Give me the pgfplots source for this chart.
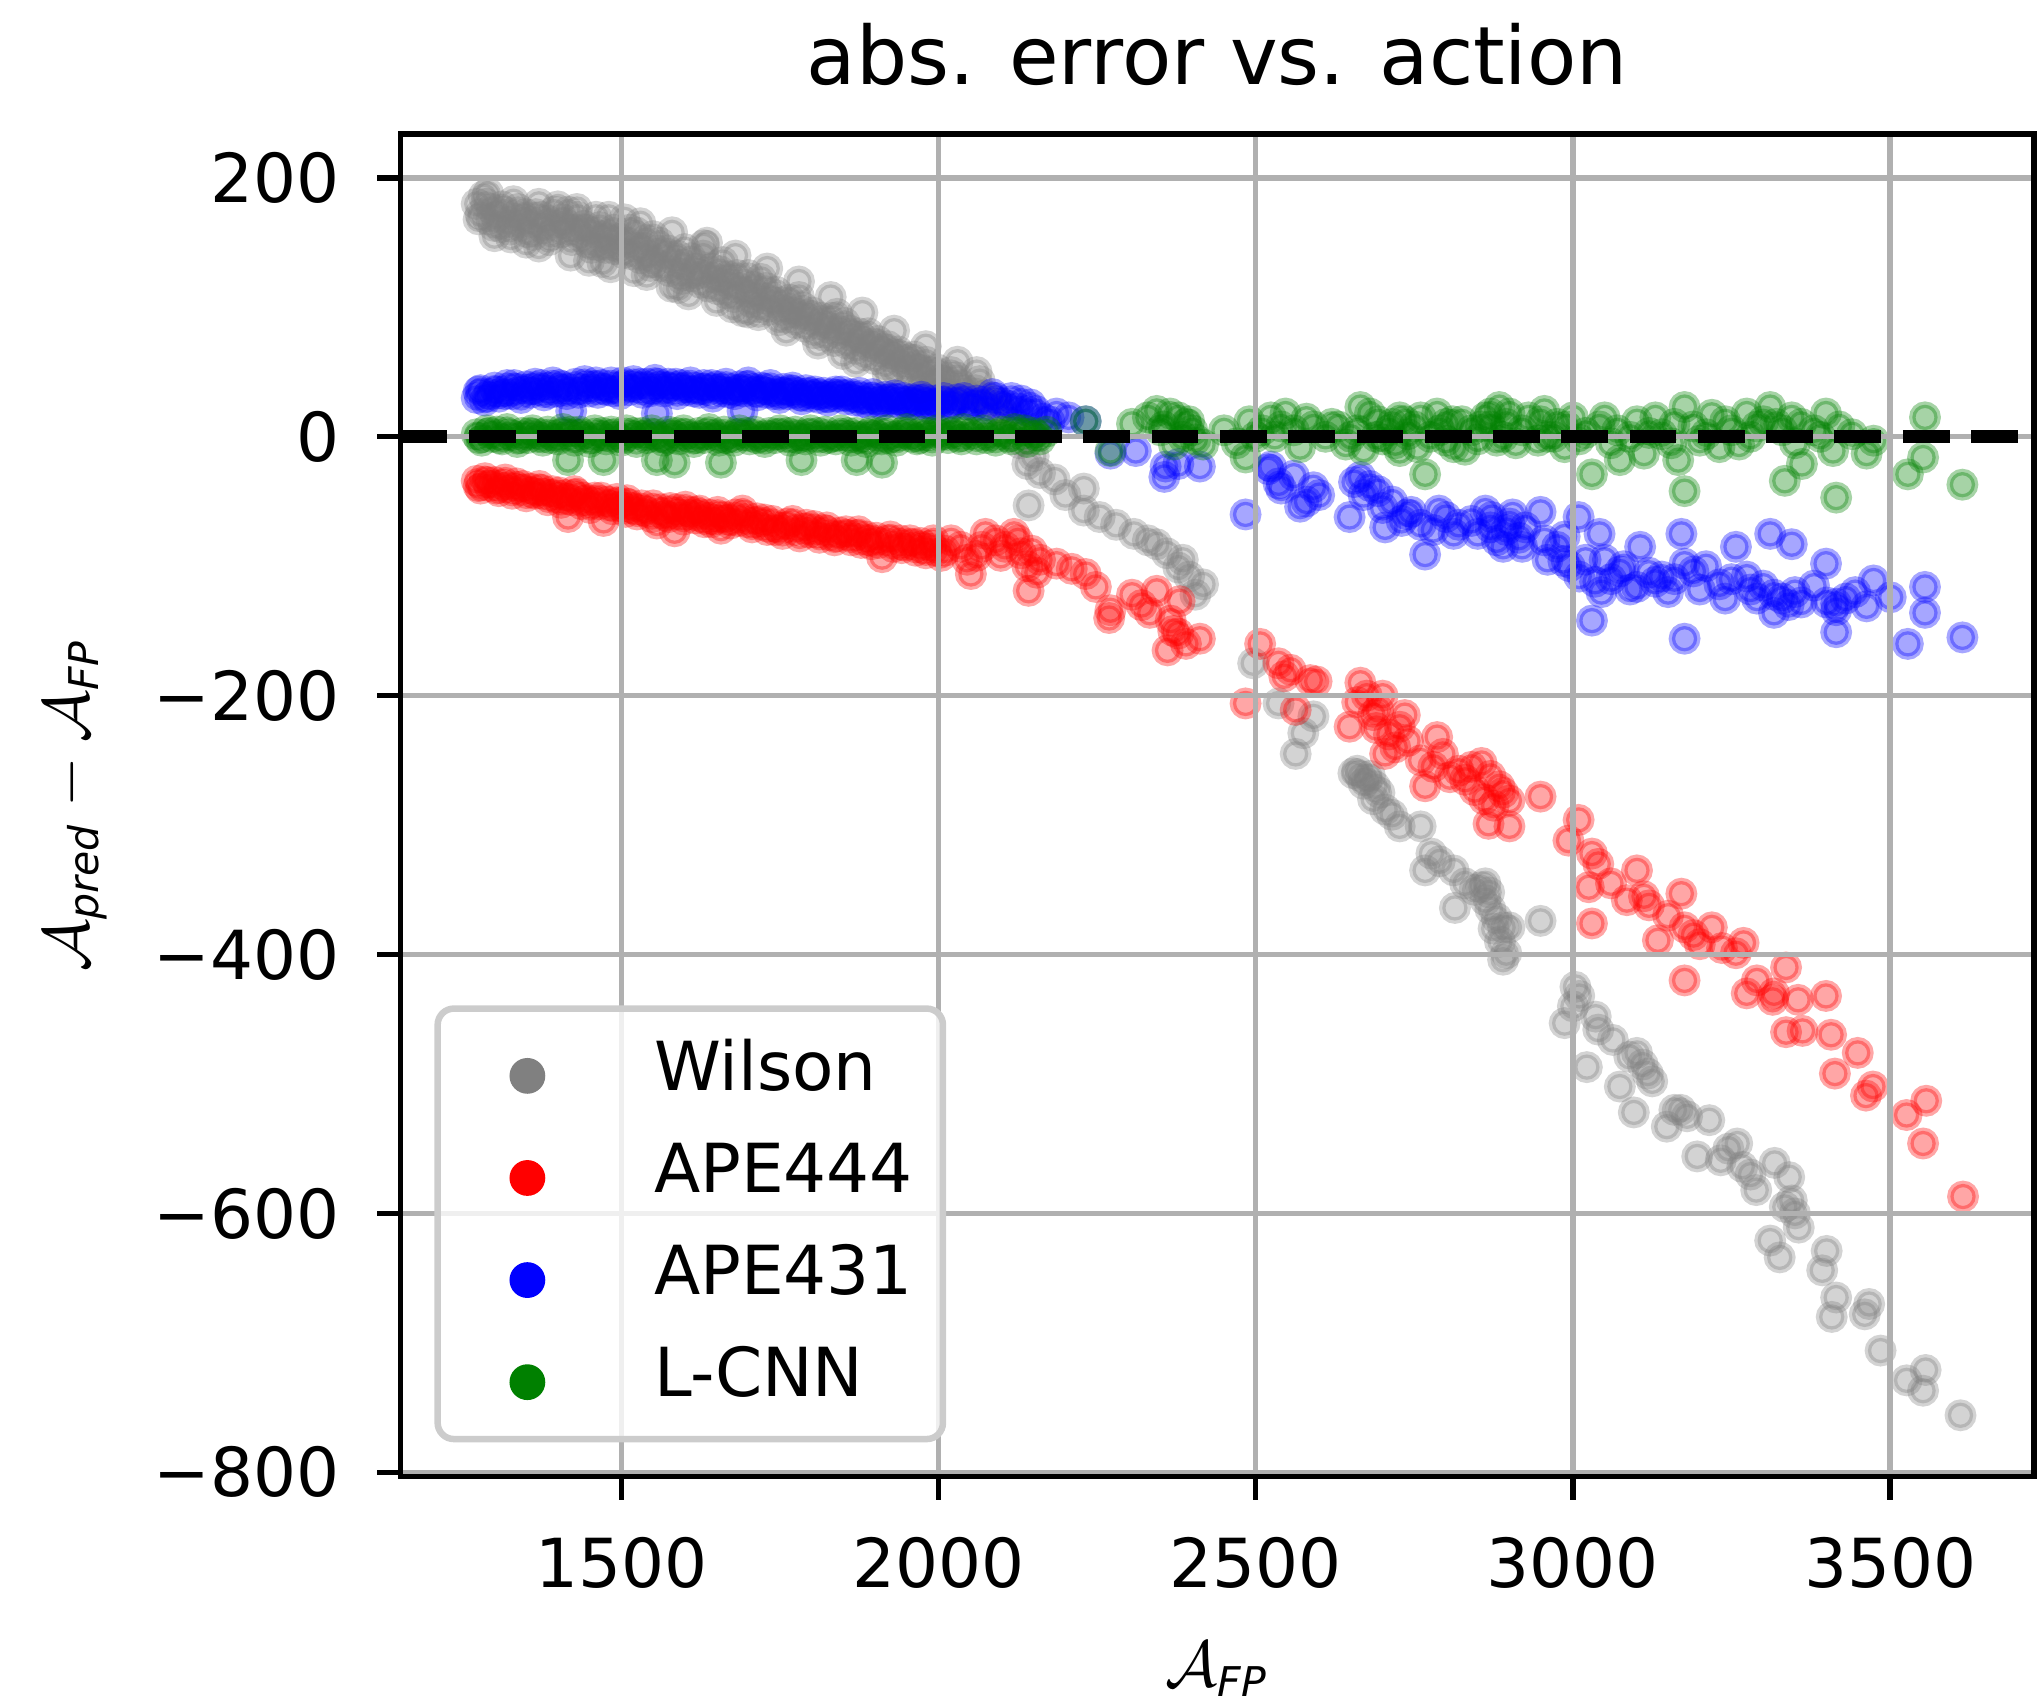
\documentclass[border=0pt]{standalone}
\usepackage{amsmath}
\usepackage{fontspec}
\setmainfont{DejaVu Sans}
\usepackage{pgfplots}
\usepackage{pgfplotstable}
\pgfplotsset{compat=1.18}
\definecolor{mgray}{RGB}{128,128,128}
\definecolor{mred}{RGB}{255,0,0}
\definecolor{mblue}{RGB}{0,0,255}
\definecolor{mgreen}{RGB}{0,128,0}
\definecolor{gridc}{RGB}{176,176,176}
\definecolor{legc}{RGB}{204,204,204}

\pgfplotstableread{
x y
1272 180
1278 172
1283 186
1290 168
1296 176
1303 170
1310 162
1316 174
1322 166
1326 154
1333 171
1340 163
1346 168
1352 158
1358 166
1365 172
1370 147
1377 161
1384 167
1390 156
1397 163
1400 178
1404 158
1410 165
1416 174
1422 152
1428 160
1435 155
1441 163
1447 150
1449 136
1455 158
1460 170
1462 148
1468 155
1475 146
1481 152
1483 131
1490 145
1497 153
1503 142
1505 168
1510 150
1516 141
1520 128
1523 158
1530 138
1536 146
1543 140
1550 155
1550 135
1557 144
1563 132
1570 139
1576 128
1579 116
1585 136
1592 126
1598 133
1600 145
1606 110
1611 124
1618 130
1625 119
1632 127
1635 150
1638 116
1645 123
1652 114
1658 121
1660 135
1665 111
1672 118
1678 108
1685 115
1691 97
1698 112
1700 125
1705 104
1712 110
1718 100
1720 122
1725 107
1732 98
1740 104
1748 90
1754 98
1760 92
1768 99
1775 88
1780 108
1782 95
1790 85
1797 91
1804 80
1812 87
1820 78
1828 84
1836 74
1840 95
1843 80
1849 64
1856 72
1863 78
1870 68
1877 74
1884 63
1892 70
1900 60
1908 66
1916 56
1924 62
1932 52
1940 58
1950 54
1958 48
1966 55
1975 46
1984 50
1993 40
2002 44
2012 36
2020 50
2035 40
2050 30
2065 43
2080 25
1275 168
1287 180
1299 163
1312 178
1324 160
1337 176
1349 172
1361 156
1374 170
1386 152
1394 174
1407 168
1419 160
1431 170
1444 160
1453 146
1466 162
1478 156
1488 160
1500 148
1513 160
1526 146
1539 152
1546 132
1560 150
1573 144
1588 140
1596 122
1609 138
1621 126
1629 140
1642 130
1655 128
1668 124
1675 100
1682 125
1695 120
1708 116
1716 94
1728 115
1736 108
1744 112
1752 104
1765 106
1772 96
1786 100
1794 94
1801 96
1815 92
1824 88
1832 92
1846 84
1852 88
1860 82
1874 80
1881 76
1889 80
1897 72
1904 74
1913 68
1920 70
1928 64
1936 66
1945 62
1954 60
1962 62
1970 52
1980 58
1990 50
1998 52
2008 46
2016 42
2028 46
2042 36
2058 36
2072 32
2090 28
1290 188
1330 182
1370 180
1430 176
1480 170
1530 165
1580 158
1630 148
1680 140
1730 130
1780 120
1830 108
1880 96
1930 82
1980 70
2030 58
2060 50
1300 155
1350 150
1420 140
1470 135
1540 125
1590 115
1650 105
1700 96
1760 82
1810 72
1870 58
1920 48
1970 38
2025 28
2100 20
2115 10
2128 -5
2140 -21
2150 -15
2142 -53
2160 -28
2183 -33
2200 -45
2229 -40
2229 -57
2254 -62
2280 -68
2308 -75
2330 -80
2344 -83
2360 -90
2378 -101
2385 -95
2395 -108
2405 -122
2417 -114
2496 -175
2536 -206
2563 -245
2575 -229
2591 -216
2654 -260
2660 -258
2665 -262
2670 -268
2675 -265
2680 -262
2685 -280
2688 -270
2695 -275
2704 -288
2715 -292
2727 -301
2760 -301
2767 -335
2777 -322
2790 -328
2812 -335
2814 -364
2830 -345
2845 -350
2855 -348
2862 -345
2862 -358
2868 -352
2870 -365
2875 -380
2880 -372
2885 -390
2890 -379
2890 -404
2895 -399
2900 -379
2949 -374
2987 -453
3000 -440
3004 -425
3010 -432
3022 -487
3036 -448
3040 -458
3063 -466
3074 -502
3089 -479
3096 -522
3101 -476
3110 -485
3118 -492
3125 -498
3148 -533
3160 -520
3170 -520
3180 -525
3196 -556
3215 -528
3233 -559
3245 -550
3259 -546
3267 -564
3280 -570
3289 -582
3311 -621
3318 -561
3326 -634
3334 -595
3341 -572
3345 -590
3350 -600
3356 -611
3393 -644
3400 -629
3408 -680
3415 -665
3460 -678
3467 -670
3485 -706
3526 -729
3552 -737
3556 -721
3611 -756
}\wilson

\pgfplotstableread{
x y
1272 -34
1278 -40
1285 -32
1292 -38
1300 -35
1307 -42
1314 -37
1320 -39
1328 -44
1335 -36
1342 -41
1350 -46
1357 -40
1364 -44
1371 -38
1376 -44
1384 -49
1391 -42
1398 -47
1405 -51
1412 -45
1416 -62
1422 -49
1430 -44
1437 -52
1444 -49
1451 -55
1458 -47
1465 -52
1472 -65
1479 -50
1486 -56
1493 -48
1500 -54
1507 -58
1511 -52
1518 -55
1525 -60
1532 -53
1540 -58
1548 -62
1556 -67
1562 -56
1570 -61
1577 -55
1584 -73
1590 -60
1598 -64
1601 -54
1608 -58
1616 -63
1623 -57
1631 -66
1638 -60
1646 -64
1652 -58
1657 -71
1664 -62
1672 -67
1680 -60
1691 -57
1698 -66
1706 -70
1714 -63
1722 -68
1730 -72
1738 -65
1746 -70
1754 -75
1762 -67
1770 -65
1781 -77
1788 -71
1796 -74
1804 -69
1812 -78
1820 -72
1828 -76
1836 -80
1844 -74
1854 -73
1862 -80
1870 -76
1878 -82
1886 -77
1894 -83
1902 -78
1911 -93
1920 -80
1928 -85
1939 -80
1946 -84
1955 -80
1964 -88
1972 -82
1980 -90
1988 -84
1995 -88
2004 -92
1275 -38
1289 -35
1303 -40
1317 -33
1331 -40
1345 -38
1360 -43
1374 -41
1388 -45
1402 -43
1415 -48
1426 -42
1440 -47
1454 -51
1468 -47
1482 -53
1496 -51
1509 -49
1522 -56
1536 -57
1550 -53
1564 -59
1575 -62
1587 -56
1604 -60
1618 -58
1628 -62
1642 -66
1656 -62
1668 -64
1684 -65
1695 -61
1710 -66
1726 -64
1742 -72
1758 -70
1775 -72
1792 -68
1808 -74
1824 -70
1840 -77
1858 -76
1874 -73
1890 -80
1906 -82
1924 -77
1942 -86
1960 -83
1976 -86
1992 -80
2010 -88
2020 -80
2045 -95
2068 -85
2098 -92
2125 -80
2140 -100
2155 -105
2035 -85
2051 -106
2060 -92
2074 -75
2090 -80
2105 -85
2119 -75
2130 -90
2142 -119
2147 -88
2160 -95
2186 -98
2210 -102
2232 -106
2248 -116
2269 -140
2271 -134
2305 -122
2320 -130
2333 -136
2344 -119
2361 -165
2366 -142
2370 -150
2378 -152
2380 -127
2390 -160
2412 -156
2484 -206
2507 -160
2536 -175
2545 -185
2555 -180
2563 -211
2586 -188
2596 -189
2648 -224
2660 -205
2665 -190
2675 -200
2685 -215
2690 -225
2693 -211
2700 -200
2704 -245
2710 -230
2720 -240
2727 -224
2735 -215
2740 -235
2760 -250
2767 -270
2780 -255
2786 -232
2795 -245
2806 -263
2820 -258
2830 -265
2840 -255
2845 -273
2856 -252
2860 -280
2867 -299
2870 -262
2875 -285
2884 -270
2890 -275
2900 -281
2900 -301
2949 -278
2993 -312
3009 -296
3025 -348
3030 -322
3030 -376
3040 -330
3060 -345
3085 -358
3101 -335
3112 -355
3120 -362
3134 -389
3150 -370
3171 -353
3176 -379
3176 -420
3190 -385
3200 -392
3219 -379
3235 -395
3257 -399
3269 -391
3274 -430
3290 -420
3315 -435
3317 -430
3336 -410
3336 -460
3355 -435
3362 -459
3399 -432
3407 -462
3413 -492
3449 -476
3462 -509
3473 -502
3526 -524
3552 -546
3557 -513
3615 -587
}\apefour

\pgfplotstableread{
x y
1272 30
1278 36
1285 28
1292 33
1300 38
1307 31
1314 35
1320 40
1328 33
1335 37
1342 30
1350 39
1357 34
1364 41
1371 36
1378 32
1385 38
1392 42
1400 35
1407 39
1414 33
1421 20
1428 41
1435 37
1442 43
1449 35
1456 39
1463 34
1470 40
1477 36
1484 42
1491 38
1498 33
1505 40
1512 36
1519 43
1526 38
1533 34
1540 41
1547 37
1553 44
1556 18
1560 39
1567 35
1574 41
1581 37
1588 33
1595 40
1602 36
1609 42
1616 38
1623 34
1630 40
1637 36
1644 31
1651 39
1658 35
1665 41
1672 37
1679 33
1686 39
1691 20
1693 35
1700 42
1707 37
1714 32
1721 38
1728 34
1735 40
1742 35
1749 30
1756 37
1763 33
1770 38
1777 34
1784 29
1791 36
1798 31
1805 35
1812 30
1819 34
1826 28
1833 33
1840 31
1847 35
1854 29
1861 33
1868 28
1875 34
1882 30
1889 26
1896 33
1903 29
1910 25
1917 31
1924 27
1931 32
1938 26
1945 30
1952 24
1959 29
1966 25
1973 31
1980 26
1987 22
1994 28
2001 24
2008 30
1275 35
1289 31
1303 35
1317 33
1331 40
1345 35
1360 37
1374 40
1388 34
1402 40
1416 37
1432 34
1446 39
1460 42
1474 37
1488 35
1502 42
1516 39
1530 41
1544 35
1558 41
1572 38
1586 41
1600 38
1614 35
1628 37
1642 40
1656 37
1670 34
1684 36
1698 39
1712 35
1726 37
1740 33
1754 34
1768 36
1782 32
1796 34
1810 33
1824 31
1838 35
1852 32
1866 31
1880 27
1894 30
1908 27
1922 29
1936 29
1950 27
1964 28
1978 29
1992 25
2006 27
2025 26
2040 30
2055 24
2070 27
2090 30
2110 24
2125 22
2145 25
2175 12
2018 23
2030 29
2045 25
2060 28
2075 22
2085 33
2100 26
2115 30
2130 28
2140 20
2153 20
2165 14
2186 18
2205 15
2232 12
2271 -13
2311 -11
2356 -31
2358 -23
2378 -21
2412 -23
2484 -60
2520 -25
2524 -23
2536 -36
2540 -40
2560 -30
2570 -54
2580 -50
2591 -39
2600 -45
2648 -62
2655 -35
2665 -31
2670 -45
2680 -38
2693 -42
2700 -55
2704 -70
2715 -50
2730 -65
2739 -60
2745 -58
2760 -68
2767 -91
2780 -72
2789 -57
2800 -62
2812 -75
2820 -68
2840 -65
2850 -75
2862 -57
2870 -70
2872 -62
2880 -80
2890 -85
2895 -72
2900 -67
2905 -60
2915 -78
2920 -85
2925 -70
2949 -58
2955 -80
2960 -95
2975 -85
2985 -96
2987 -77
2995 -100
3009 -62
3010 -108
3020 -95
3030 -142
3035 -112
3042 -75
3045 -120
3050 -95
3060 -110
3074 -104
3080 -100
3090 -118
3101 -116
3106 -85
3120 -105
3130 -112
3140 -108
3150 -120
3160 -110
3171 -75
3176 -98
3176 -156
3190 -104
3200 -118
3210 -100
3231 -114
3240 -125
3250 -110
3257 -85
3274 -108
3280 -118
3290 -125
3300 -115
3311 -75
3317 -122
3317 -136
3330 -125
3340 -130
3345 -83
3350 -120
3360 -128
3380 -115
3399 -98
3400 -128
3415 -129
3415 -134
3415 -151
3430 -125
3445 -120
3463 -131
3474 -111
3501 -124
3528 -160
3555 -116
3555 -136
3614 -155
}\apethree

\pgfplotstableread{
x y
1272 2
1280 -3
1288 5
1296 0
1304 4
1312 -2
1320 6
1328 1
1336 -4
1344 3
1352 -1
1360 5
1368 0
1376 -3
1384 4
1392 1
1400 -2
1408 6
1416 -18
1418 2
1426 -3
1434 4
1442 0
1450 -4
1458 5
1466 1
1472 -18
1476 -2
1484 4
1492 0
1500 -3
1508 5
1516 1
1524 -4
1532 3
1540 -1
1548 5
1556 -18
1558 0
1566 -3
1574 4
1582 1
1584 -20
1590 -2
1598 5
1606 0
1614 -4
1622 3
1630 -1
1638 6
1646 1
1654 -3
1657 -20
1662 4
1670 0
1678 -3
1686 5
1694 1
1702 -2
1710 4
1718 0
1726 -4
1734 3
1742 -1
1750 5
1758 0
1766 -3
1774 4
1782 1
1784 -18
1790 -2
1798 5
1806 0
1814 -3
1822 4
1830 0
1838 -2
1846 5
1854 1
1862 -3
1870 3
1871 -18
1878 0
1886 -4
1894 4
1902 1
1910 -2
1911 -20
1918 5
1926 0
1934 -3
1942 3
1950 6
1958 0
1966 -2
1974 4
1982 1
1990 -3
1998 5
2006 2
2015 -1
2024 4
2032 0
2040 6
2050 2
2060 -2
2070 5
2080 1
2090 -3
2100 4
2110 0
2120 6
2130 2
2140 -4
2150 3
2160 -2
1276 -1
1292 3
1308 -1
1324 2
1340 -1
1356 3
1372 2
1388 -1
1404 2
1420 4
1438 2
1454 -1
1470 3
1488 2
1504 -1
1520 3
1536 1
1552 2
1570 -1
1586 3
1602 2
1618 -1
1634 2
1650 2
1666 -1
1682 2
1698 3
1714 -1
1730 1
1746 2
1762 3
1778 -1
1794 2
1810 3
1826 -1
1842 1
1858 3
1874 -1
1890 2
1906 3
1922 -1
1938 1
1954 2
1970 -1
1986 3
2002 1
2020 3
2036 -2
2055 3
2075 -1
2095 2
2115 -2
2135 5
2155 1
2170 4
2232 12
2271 -11
2305 10
2330 15
2344 20
2350 5
2355 8
2365 18
2371 -6
2378 15
2385 0
2390 10
2395 12
2400 5
2405 -2
2417 -6
2450 5
2470 -5
2484 -16
2490 12
2500 0
2510 5
2524 15
2530 0
2540 8
2547 18
2560 5
2570 -8
2580 14
2591 8
2610 0
2620 10
2630 8
2642 -6
2650 0
2660 5
2665 23
2670 -10
2680 18
2690 0
2693 12
2700 -2
2710 5
2715 10
2720 -5
2727 15
2727 -11
2735 12
2740 2
2750 8
2755 -8
2760 15
2767 -29
2775 0
2786 18
2790 5
2800 10
2800 -3
2810 12
2812 -8
2825 12
2830 -10
2840 5
2850 -2
2855 8
2862 15
2870 8
2870 18
2880 -3
2884 23
2890 0
2895 10
2900 18
2910 -5
2920 5
2930 15
2945 -3
2949 12
2955 20
2960 0
2970 0
2975 10
2987 -8
2990 8
3000 15
3010 -2
3020 3
3030 -29
3042 8
3050 15
3060 -5
3070 5
3074 -18
3090 0
3101 12
3112 -13
3120 3
3130 15
3140 2
3155 -5
3160 10
3166 -18
3176 23
3176 -42
3190 8
3200 -3
3210 2
3219 17
3231 -8
3240 12
3250 5
3262 -6
3274 18
3280 0
3290 8
3300 12
3311 23
3320 10
3330 5
3334 -34
3345 15
3350 -5
3360 10
3361 -21
3380 5
3390 0
3399 18
3410 -11
3415 -47
3420 8
3440 2
3463 -13
3474 -3
3528 -29
3552 -16
3555 15
3614 -37
}\lcnn

\newcommand{\legimg}[1]{\addlegendimage{legend image code/.code={%
  \path[draw=none, fill=none] (0pt,-2.5pt) rectangle (11.7pt,2.5pt);
  \draw[color=#1, fill=#1, line width=1pt, opacity=1, mark size=2.25pt, mark=*] plot coordinates {(9.2pt,-0.8pt)};}}}
\newcommand{\sub}[1]{\text{\fontsize{6.3}{7}\selectfont\itshape #1}}

\pgfplotsset{
  scat/.style={only marks, mark=*, mark size=1.95pt, forget plot,
    mark options={draw=#1, fill=#1, fill opacity=0.35, draw opacity=0.35, line width=1pt}},
}

\begin{document}
\begin{tikzpicture}
\begin{axis}[
  name=ax,
  set layers=axis on top,
  scale only axis, width=251.2pt, height=206.4pt,
  xmin=1152, xmax=3727, ymin=-803, ymax=234,
  xtick={1500,2000,2500,3000,3500},
  xticklabels={1500,2000,2500,3000,3500},
  ytick={-800,-600,-400,-200,0,200},
  yticklabels={−800,−600,−400,−200,0,200},
  tick pos=left, tick align=outside, major tick length=3.6pt,
  tick style={black, line width=0.8pt},
  axis line style={line width=0.8pt},
  grid=major, major grid style={gridc, line width=0.8pt},
  tick label style={font=\fontsize{10.4}{12}\selectfont, inner sep=0pt},
  xticklabel style={anchor=base, yshift=-13.5pt},
  yticklabel style={anchor=east, xshift=-5.6pt},
  title={abs. error vs. action},
  title style={at={(axis description cs:0.5,1)}, anchor=base, yshift=1.6pt, inner sep=0pt, font=\fontsize{12.4}{15}\selectfont},
  xlabel={\(\mathcal{A}_{\sub{FP}}\)},
  xlabel style={at={(axis description cs:0.5,0)}, anchor=base, yshift=-32.4pt, inner sep=0pt, font=\fontsize{10.4}{12}\selectfont},
  ylabel={\(\mathcal{A}_{\sub{pred}} - \mathcal{A}_{\sub{FP}}\)},
  ylabel style={at={(axis description cs:-0.191,0.5)}, rotate=0, anchor=base, inner sep=0pt, font=\fontsize{10.4}{12}\selectfont},
  legend cell align=left,
  legend style={
    at={(axis description cs:0,0)}, anchor=south west, xshift=5.2pt, yshift=5.2pt,
    draw=legc, line width=1pt, rounded corners=2.5pt, fill=white, fill opacity=0.8, text opacity=1,
    inner xsep=4.6pt, inner ysep=4.9pt,
    row sep=6.4pt, column sep=17pt,
    font=\fontsize{10.4}{12}\selectfont,
    nodes={inner sep=0pt, text height=7.7pt, text depth=1.6pt},
  },
]
\addplot[scat=mgray] table {\wilson};
\addplot[scat=mred] table {\apefour};
\addplot[scat=mblue] table {\apethree};
\addplot[scat=mgreen] table {\lcnn};
\addplot[black, line width=2.05pt, dash pattern=on 7.2pt off 3.3pt, on layer=axis foreground, forget plot] coordinates {(1152,0) (3727,0)};
\legimg{mgray}\addlegendentry{Wilson}
\legimg{mred}\addlegendentry{APE444}
\legimg{mblue}\addlegendentry{APE431}
\legimg{mgreen}\addlegendentry{L-CNN}
\end{axis}
\pgfresetboundingbox
\useasboundingbox ([xshift=-61.6pt,yshift=-34.8pt]ax.south west) rectangle ([xshift=0.6pt,yshift=20.6pt]ax.north east);
\end{tikzpicture}
\end{document}
